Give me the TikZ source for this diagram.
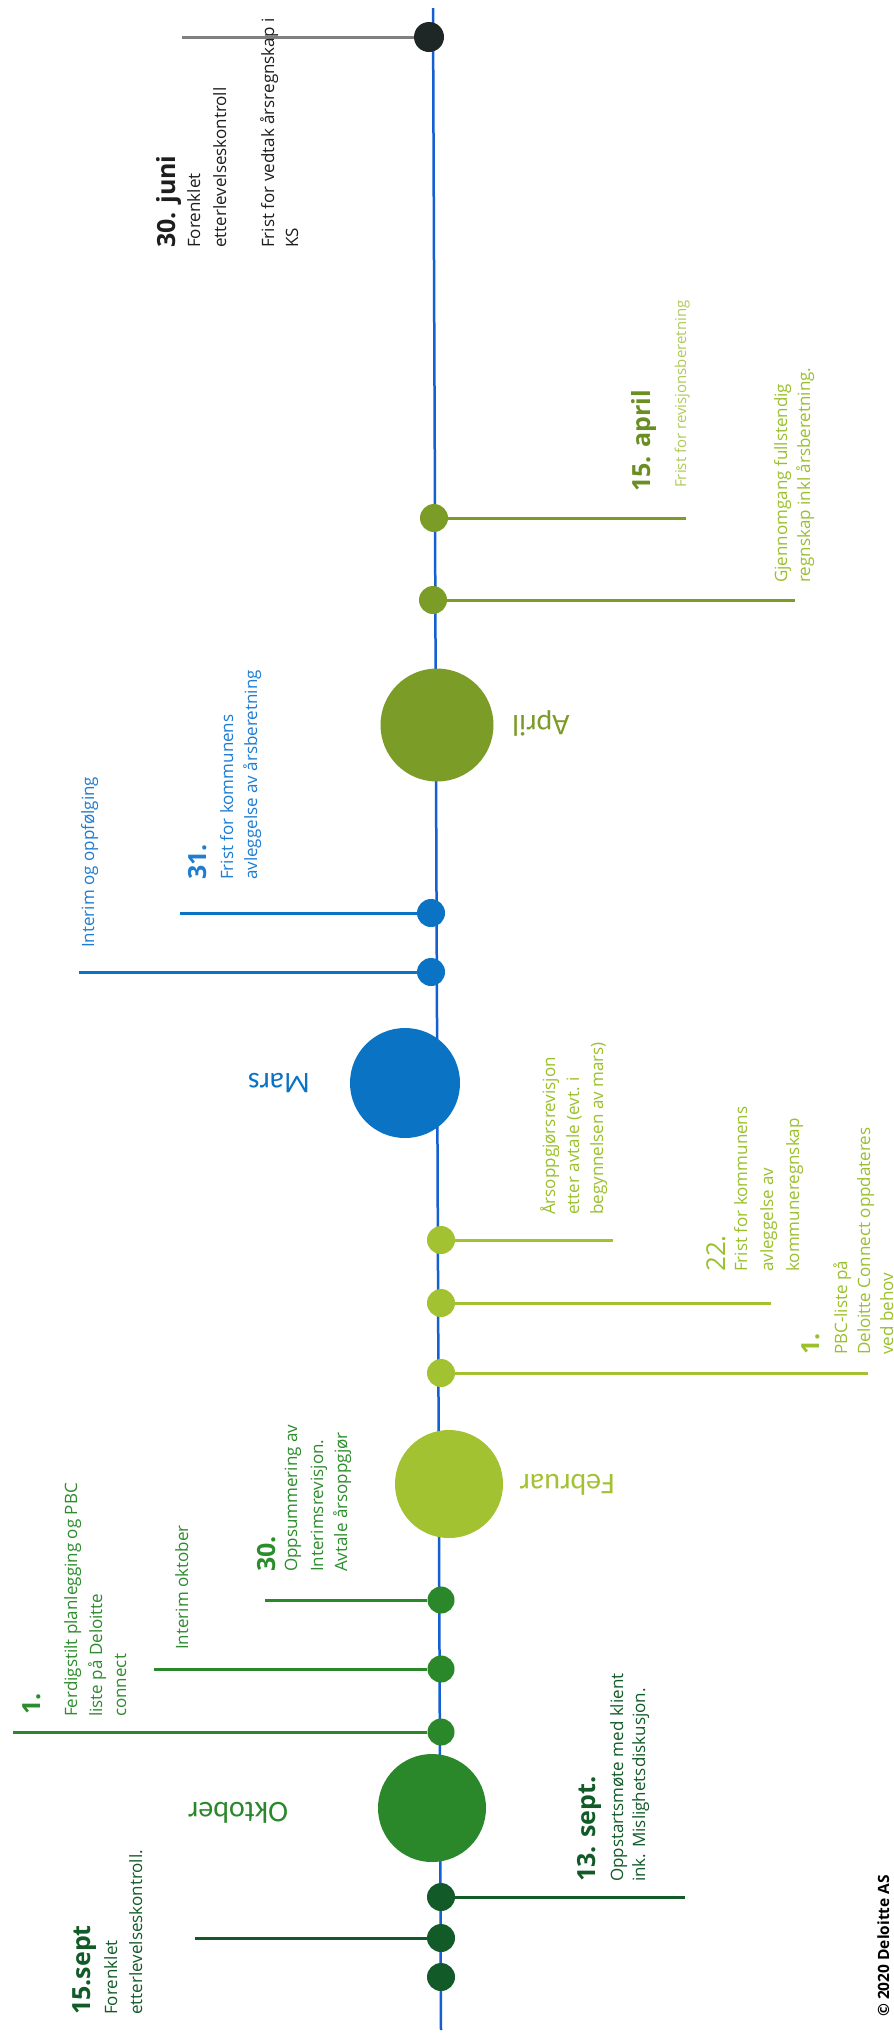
\documentclass[tikz,border=0pt]{standalone}
\usepackage{fontspec}
\setmainfont{Open Sans}
\newfontfamily\monthfont{Carlito}
\definecolor{cline}{RGB}{20,95,210}
\definecolor{cblack}{RGB}{30,38,38}
\definecolor{cgray}{RGB}{128,128,128}
\definecolor{colive}{RGB}{124,156,40}
\definecolor{colivetxt}{RGB}{107,142,35}
\definecolor{clime}{RGB}{162,194,50}
\definecolor{climetxt}{RGB}{155,192,45}
\definecolor{clighttxt}{RGB}{175,202,90}
\definecolor{cblue}{RGB}{10,115,195}
\definecolor{cbluetxt}{RGB}{30,125,210}
\definecolor{cgreen}{RGB}{42,135,42}
\definecolor{cgreentxt}{RGB}{45,140,45}
\definecolor{cdark}{RGB}{18,90,40}
\definecolor{ctext}{RGB}{30,30,30}
\tikzset{
  tdot/.style={circle, inner sep=0pt, minimum size=#1, draw=none},
  stick/.style={line width=3pt},
  mainline/.style={line width=2.5pt, draw=cline},
  vt/.style={rotate=90, anchor=base west, inner sep=0pt},
  bodytxt/.style={vt, font=\fontsize{17}{20}\selectfont},
  smalltxt/.style={vt, font=\fontsize{15}{18}\selectfont},
  hdr/.style={vt, font=\bfseries\fontsize{25}{28}\selectfont},
  monthlbl/.style={rotate=180, inner sep=0pt, font=\monthfont\fontsize{30}{32}\selectfont},
}
\begin{document}
\begin{tikzpicture}[x=1pt,y=-1pt]
\useasboundingbox (0,0) rectangle (894,2038);
\fill[white] (0,0) rectangle (894,2038);
% main line
\coordinate (ltop) at (433,8);
\coordinate (lbot) at (441,2030);
\draw[mainline] (ltop) -- (lbot);
% dots and circles
\node[tdot=30pt, fill=cblack] (dA) at (429,37) {};
\node[tdot=28pt, fill=colive] (dB) at (434,518) {};
\node[tdot=28pt, fill=colive] (dC) at (433,600) {};
\node[tdot=113pt, fill=colive] (april) at (437,725) {};
\node[tdot=28pt, fill=cblue] (dD) at (431,913) {};
\node[tdot=28pt, fill=cblue] (dE) at (431,972) {};
\node[tdot=110pt, fill=cblue] (mars) at (405,1083) {};
\node[tdot=28pt, fill=clime] (dF) at (441,1240) {};
\node[tdot=28pt, fill=clime] (dG) at (441,1303) {};
\node[tdot=28pt, fill=clime] (dH) at (441,1373) {};
\node[tdot=108pt, fill=clime] (feb) at (449,1484) {};
\node[tdot=27pt, fill=cgreen] (dI) at (441,1600) {};
\node[tdot=27pt, fill=cgreen] (dJ) at (441,1669) {};
\node[tdot=27pt, fill=cgreen] (dK) at (441,1732) {};
\node[tdot=108pt, fill=cgreen] (okt) at (432,1808) {};
\node[tdot=28pt, fill=cdark] (dL) at (441,1897) {};
\node[tdot=28pt, fill=cdark] (dM) at (441,1938) {};
\node[tdot=28pt, fill=cdark] (dN) at (441,1977) {};
% stick ends
\coordinate (sA) at (182,37);
\coordinate (sB) at (686,518);
\coordinate (sC) at (795,600);
\coordinate (sD) at (180,913);
\coordinate (sE) at (79,972);
\coordinate (sF) at (613,1240);
\coordinate (sG) at (771,1303);
\coordinate (sH) at (868,1373);
\coordinate (sI) at (265,1600);
\coordinate (sJ) at (154,1669);
\coordinate (sK) at (13,1732);
\coordinate (sL) at (685,1897);
\coordinate (sM) at (195,1938);
\draw[stick, cgray] (dA) -- (sA);
\draw[stick, colive] (dB) -- (sB);
\draw[stick, colive] (dC) -- (sC);
\draw[stick, cblue] (dD) -- (sD);
\draw[stick, cblue] (dE) -- (sE);
\draw[stick, clime] (dF) -- (sF);
\draw[stick, clime] (dG) -- (sG);
\draw[stick, clime] (dH) -- (sH);
\draw[stick, cgreen] (dI) -- (sI);
\draw[stick, cgreen] (dJ) -- (sJ);
\draw[stick, cgreen] (dK) -- (sK);
\draw[stick, cdark] (dL) -- (sL);
\draw[stick, cdark] (dM) -- (sM);
% month labels
\node[monthlbl, text=colive] (lapril) at (541,723) {April};
\node[monthlbl, text=cblue] (lmars) at (279,1083) {Mars};
\node[monthlbl, text=clime] (lfeb) at (567,1485) {Februar};
\node[monthlbl, text=cgreen] (lokt) at (238,1813) {Oktober};
% 30. juni
\node[hdr, text=ctext] (tjuni) at (175,248) {30. juni};
\node[bodytxt, text=ctext] (tjuni1) at (200,248) {Forenklet};
\node[bodytxt, text=ctext] (tjuni2) at (226,248) {etterlevelseskontroll};
\node[bodytxt, text=ctext] (tjuni3) at (274,248) {Frist for vedtak årsregnskap i};
\node[bodytxt, text=ctext] (tjuni4) at (298,248) {KS};
% 15. april
\node[hdr, text=colivetxt] (tapr) at (650,492) {15. april};
\node[smalltxt, text=clighttxt] (tapr1) at (686,488) {Frist for revisjonsberetning};
\node[bodytxt, text=climetxt] (tgj1) at (787,583) {Gjennomgang fullstendig};
\node[bodytxt, text=climetxt] (tgj2) at (810,583) {regnskap inkl årsberetning.};
% 31.
\node[hdr, text=cbluetxt] (t31) at (206,880) {31.};
\node[bodytxt, text=cbluetxt] (t31a) at (233,880) {Frist for kommunens};
\node[bodytxt, text=cbluetxt] (t31b) at (257,880) {avleggelse av årsberetning};
\node[bodytxt, text=cbluetxt] (tint) at (94,948) {Interim og oppfølging};
% Årsoppgjør
\node[bodytxt, text=climetxt] (tars1) at (555,1215) {Årsoppgjørsrevisjon};
\node[bodytxt, text=climetxt] (tars2) at (579,1215) {etter avtale (evt. i};
\node[bodytxt, text=climetxt] (tars3) at (603,1215) {begynnelsen av mars)};
% 22.
\node[vt, font=\fontsize{26}{28}\selectfont, text=climetxt] (t22) at (725,1272) {22.};
\node[bodytxt, text=climetxt] (t22a) at (747,1272) {Frist for kommunens};
\node[bodytxt, text=climetxt] (t22b) at (773,1272) {avleggelse av};
\node[bodytxt, text=climetxt] (t22c) at (799,1272) {kommuneregnskap};
% 1. (Feb)
\node[hdr, text=climetxt] (t1f) at (819,1355) {1.};
\node[bodytxt, text=climetxt] (t1fa) at (847,1355) {PBC-liste på};
\node[bodytxt, text=climetxt] (t1fb) at (870,1355) {Deloitte Connect oppdateres};
\node[bodytxt, text=climetxt] (t1fc) at (893,1355) {ved behov};
% 30.
\node[hdr, text=cgreentxt] (t30) at (275,1572) {30.};
\node[bodytxt, text=cgreentxt] (t30a) at (297,1572) {Oppsummering av};
\node[bodytxt, text=cgreentxt] (t30b) at (323,1572) {Interimsrevisjon.};
\node[bodytxt, text=cgreentxt] (t30c) at (347,1572) {Avtale årsoppgjør};
\node[bodytxt, text=cgreentxt] (tiok) at (188,1650) {Interim oktober};
% 1. (Okt)
\node[hdr, text=cgreentxt] (t1o) at (40,1715) {1.};
\node[bodytxt, text=cgreentxt] (t1oa) at (77,1717) {Ferdigstilt planlegging og PBC};
\node[bodytxt, text=cgreentxt] (t1ob) at (102,1717) {liste på Deloitte};
\node[bodytxt, text=cgreentxt] (t1oc) at (126,1717) {connect};
% 13. sept.
\node[hdr, text=cdark] (t13) at (595,1882) {13. sept.};
\node[bodytxt, text=cdark] (t13a) at (623,1882) {Oppstartsmøte med klient};
\node[bodytxt, text=cdark] (t13b) at (645,1882) {ink. Mislighetsdiskusjon.};
% 15.sept
\node[hdr, text=cdark] (t15) at (90,2015) {15.sept};
\node[bodytxt, text=cdark] (t15a) at (117,2015) {Forenklet};
\node[bodytxt, text=cdark] (t15b) at (142,2015) {etterlevelseskontroll.};
% copyright
\node[vt, font=\bfseries\fontsize{15.5}{18}\selectfont, text=black] (copy) at (889,2017) {© 2020 Deloitte AS};
\end{tikzpicture}
\end{document}
